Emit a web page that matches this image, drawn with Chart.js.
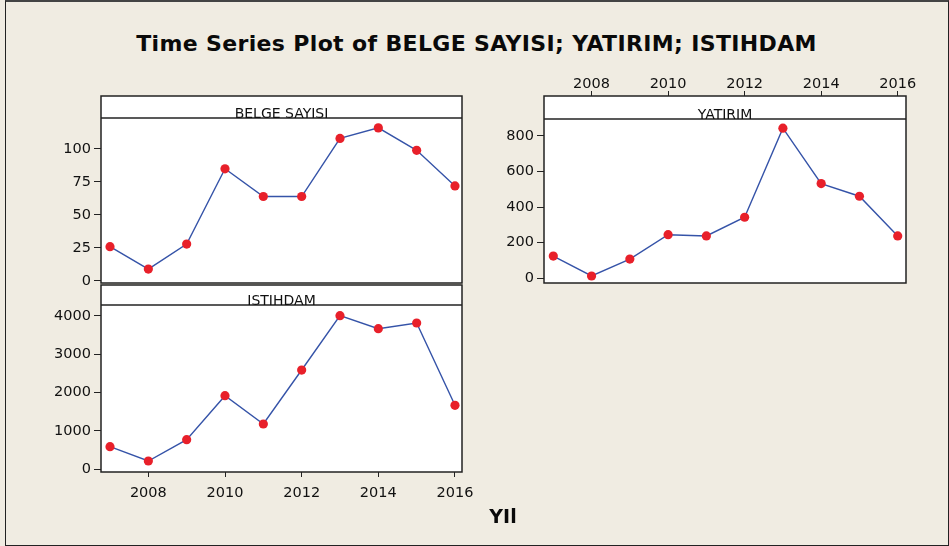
<!DOCTYPE html>
<html>
<head>
<meta charset="utf-8">
<title>Time Series Plot of BELGE SAYISI; YATIRIM; ISTIHDAM</title>
<script src="https://cdn.jsdelivr.net/npm/chart.js@4.4.1/dist/chart.umd.min.js"></script>
<style>
  html, body { margin: 0; padding: 0; background: #F0ECE2; }
  #page { position: relative; width: 949px; height: 546px; overflow: hidden; background: #F0ECE2; }
  #frame { position: absolute; left: 5px; top: 0; width: 944px; height: 546px; box-sizing: border-box;
           border: 1px solid #222; border-top: 2px solid #444; }
  #title { position: absolute; left: 0; top: 31px; width: 953px; text-align: center;
           font: bold 22px "DejaVu Sans", Verdana, sans-serif; line-height: 26px; letter-spacing: 0.35px; color: #0a0a0a; }
  #xlabel { position: absolute; left: 453px; top: 506px; width: 100px; text-align: center;
            font: bold 19px "DejaVu Sans", Verdana, sans-serif; line-height: 20px; color: #0a0a0a; }
  canvas { position: absolute; }
  #belgeChart { left: 0; top: 80px; }
  #istihdamChart { left: 0; top: 270px; }
  #yatirimChart { left: 480px; top: 40px; }
</style>
</head>
<body>
<div id="page">
  <div id="frame"></div>
  <div id="title">Time Series Plot of BELGE SAYISI; YATIRIM; ISTIHDAM</div>
  <canvas id="belgeChart" width="500" height="215"></canvas>
  <canvas id="istihdamChart" width="500" height="255"></canvas>
  <canvas id="yatirimChart" width="469" height="260"></canvas>
  <div id="xlabel">YIl</div>
</div>
<script>
(function() {
    'use strict';

    // data
    const years = [2007, 2008, 2009, 2010, 2011, 2012, 2013, 2014, 2015, 2016];
    const belgeSayisi = [26, 9, 28, 85, 64, 64, 108, 116, 99, 72];
    const yatirim = [125, 13, 108, 245, 238, 343, 843, 532, 461, 238];
    const istihdam = [590, 217, 773, 1920, 1182, 2590, 4008, 3668, 3817, 1670];

    const yearTicks = [2008, 2010, 2012, 2014, 2016];
    const belgeTicks = [0, 25, 50, 75, 100];
    const yatirimTicks = [0, 200, 400, 600, 800];
    const istihdamTicks = [0, 1000, 2000, 3000, 4000];

    const FONT = '"DejaVu Sans", Verdana, sans-serif';
    const INK = '#222';

    // white plot area, header strip with the variable name, frame
    const panelPlugin = {
        id: 'panelStrip',
        beforeDraw(chart) {
            const a = chart.chartArea;
            const ctx = chart.ctx;
            ctx.save();
            ctx.fillStyle = '#ffffff';
            ctx.fillRect(a.left, a.top, a.right - a.left, a.bottom - a.top);
            ctx.restore();
        },
        afterDraw(chart, args, opts) {
            const a = chart.chartArea;
            const ctx = chart.ctx;
            const h = opts.height;
            ctx.save();
            ctx.fillStyle = '#ffffff';
            ctx.fillRect(a.left, a.top, a.right - a.left, h);
            ctx.strokeStyle = INK;
            ctx.lineWidth = 1.5;
            ctx.beginPath();
            ctx.moveTo(a.left, a.top + h);
            ctx.lineTo(a.right, a.top + h);
            ctx.stroke();
            ctx.strokeRect(a.left, a.top, a.right - a.left, a.bottom - a.top);
            ctx.fillStyle = '#111';
            ctx.font = '14px ' + FONT;
            ctx.textAlign = 'center';
            ctx.textBaseline = 'alphabetic';
            ctx.fillText(opts.text, (a.left + a.right) / 2, a.top + h - 0.5);
            ctx.restore();
        }
    };

    function makePanel(id, values, cfg) {
        const canvas = document.getElementById(id);
        return new Chart(canvas, {
            type: 'line',
            data: {
                datasets: [{
                    data: years.map(function(y, i) { return { x: y, y: values[i] }; }),
                    borderColor: '#3553A8',
                    borderWidth: 1.4,
                    tension: 0,
                    fill: false,
                    pointBackgroundColor: '#E8202A',
                    pointBorderColor: '#E8202A',
                    pointBorderWidth: 0,
                    pointRadius: 4.6
                }]
            },
            options: {
                responsive: false,
                animation: false,
                devicePixelRatio: 1,
                clip: false,
                layout: { padding: cfg.padding },
                plugins: {
                    legend: { display: false },
                    tooltip: { enabled: false },
                    panelStrip: { text: cfg.title, height: cfg.stripHeight }
                },
                scales: {
                    x: {
                        type: 'linear',
                        display: cfg.xPosition !== null,
                        position: cfg.xPosition || 'bottom',
                        min: cfg.xMin,
                        max: cfg.xMax,
                        afterBuildTicks: function(scale) {
                            scale.ticks = yearTicks.map(function(v) { return { value: v }; });
                        },
                        afterFit: function(scale) { scale.height = cfg.xHeight; },
                        border: { display: false },
                        grid: { drawOnChartArea: false, drawTicks: true, tickLength: 5, color: INK, lineWidth: 1 },
                        ticks: {
                            padding: cfg.xPadding,
                            color: '#111',
                            font: { family: FONT, size: 14.5 },
                            maxRotation: 0,
                            callback: function(v) { return String(v); }
                        }
                    },
                    y: {
                        type: 'linear',
                        min: cfg.yMin,
                        max: cfg.yMax,
                        afterBuildTicks: function(scale) {
                            scale.ticks = cfg.yTicks.map(function(v) { return { value: v }; });
                        },
                        afterFit: function(scale) { scale.width = cfg.yWidth; },
                        border: { display: false },
                        grid: { drawOnChartArea: false, drawTicks: true, tickLength: 7, color: INK, lineWidth: 1 },
                        ticks: {
                            padding: 3,
                            color: '#111',
                            font: { family: FONT, size: 14.5 },
                            callback: function(v) { return String(v); }
                        }
                    }
                }
            },
            plugins: [panelPlugin]
        });
    }

    makePanel('belgeChart', belgeSayisi, {
        title: 'BELGE SAYISI',
        stripHeight: 22,
        padding: { top: 16, right: 38, bottom: 12, left: 0 },
        xPosition: null, xHeight: 0, xPadding: 0,
        xMin: 2006.765, xMax: 2016.183,
        yMin: -1.52, yMax: 140.15, yTicks: belgeTicks, yWidth: 101
    });

    makePanel('istihdamChart', istihdam, {
        title: 'ISTIHDAM',
        stripHeight: 20,
        padding: { top: 15, right: 38, bottom: 0, left: 0 },
        xPosition: 'bottom', xHeight: 53, xPadding: 8,
        xMin: 2006.765, xMax: 2016.183,
        yMin: -70, yMax: 4808, yTicks: istihdamTicks, yWidth: 101
    });

    makePanel('yatirimChart', yatirim, {
        title: 'YATIRIM',
        stripHeight: 23,
        padding: { top: 0, right: 43, bottom: 17, left: 0 },
        xPosition: 'top', xHeight: 56, xPadding: -2,
        xMin: 2006.757, xMax: 2016.217,
        yMin: -26.4, yMax: 1024, yTicks: yatirimTicks, yWidth: 64
    });
})();
</script>
</body>
</html>
